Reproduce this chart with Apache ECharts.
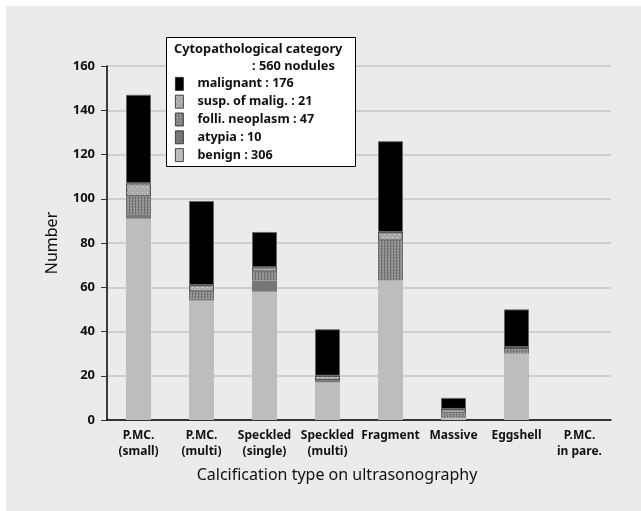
<!DOCTYPE html>
<html>
<head>
<meta charset="utf-8">
<script src="https://cdn.jsdelivr.net/npm/echarts@6/dist/echarts.min.js"></script>
<style>
  body { margin: 0; background: #fff; }
  #chart { position: absolute; left: 6px; top: 6px; width: 635px; height: 505px; background: #ebebeb; }
</style>
</head>
<body>
<div id="chart"></div>
<script>
// categories and stacked counts (bottom to top)
var categories = ['P.MC.\n(small)', 'P.MC.\n(multi)', 'Speckled\n(single)', 'Speckled\n(multi)', 'Fragment', 'Massive', 'Eggshell', 'P.MC.\nin pare.'];
var benign    = [91, 54, 58, 17, 63, 1, 30, 0];
var atypia    = [2, 1, 5, 1, 0, 0, 0, 0];
var folli     = [8, 3, 4, 0, 18, 2, 2, 0];
var susp      = [6, 3, 2, 2, 4, 2, 1, 0];
var malignant = [40, 38, 16, 21, 41, 5, 17, 0];

var yTicks = [0, 20, 40, 60, 80, 100, 120, 140, 160];
var legendNames = ['malignant', 'susp. of malig.', 'folli. neoplasm', 'atypia', 'benign'];
var legendCounts = [176, 21, 47, 10, 306];
var totalNodules = 560;

// little fill patterns for the textured segments
function makePattern(size, base, dots) {
  var c = document.createElement('canvas');
  c.width = size; c.height = size;
  var ctx = c.getContext('2d');
  ctx.fillStyle = base;
  ctx.fillRect(0, 0, size, size);
  dots.forEach(function (d) {
    ctx.fillStyle = d[2];
    ctx.fillRect(d[0], d[1], 1, 1);
  });
  return { image: c, repeat: 'repeat' };
}
var suspFill = makePattern(5, '#a9a9a9', [[1, 1, '#e6e6e6'], [3, 3, '#cfcfcf']]);
var folliFill = makePattern(3, '#8e8e8e', [[0, 0, '#6a6a6a'], [0, 1, '#767676'], [0, 2, '#6a6a6a'], [2, 1, '#a4a4a4']]);

function clean(arr) {
  return arr.map(function (v) { return v === 0 ? '-' : v; });
}

var chart = echarts.init(document.getElementById('chart'));

var font = '"Noto Sans", sans-serif';

var option = {
  animation: false,
  textStyle: { fontFamily: font },
  grid: { left: 101, right: 30, top: 60, bottom: 91 },
  legend: {
    data: legendNames,
    orient: 'vertical',
    icon: 'rect',
    left: 169,
    top: 71,
    z: 10,
    itemWidth: 8,
    itemHeight: 13,
    itemGap: 4,
    padding: 0,
    selectedMode: false,
    itemStyle: { borderColor: '#222', borderWidth: 0.8 },
    textStyle: { fontSize: 12.6, fontWeight: 'bold', color: '#111', padding: [0, 0, 0, 9] },
    formatter: function (name) {
      return name + ' : ' + legendCounts[legendNames.indexOf(name)];
    }
  },
  graphic: [
    {
      type: 'rect', z: 5,
      shape: { x: 160.5, y: 31.5, width: 189, height: 129 },
      style: { fill: '#fff', stroke: '#000', lineWidth: 1 }
    },
    {
      type: 'text', z: 6, left: 168, top: 37,
      style: { text: 'Cytopathological category', font: 'bold 12.8px ' + font, fill: '#111' }
    },
    {
      type: 'text', z: 6, left: 246, top: 54,
      style: { text: ': ' + totalNodules + ' nodules', font: 'bold 12.8px ' + font, fill: '#111' }
    }
  ],
  xAxis: {
    type: 'category',
    data: categories,
    name: 'Calcification type on ultrasonography',
    nameLocation: 'middle',
    nameGap: 47,
    nameTextStyle: { fontSize: 16, color: '#111', padding: [0, 44, 0, 0] },
    axisLine: { lineStyle: { color: '#000', width: 1.5 } },
    axisTick: { length: 5, lineStyle: { color: '#555' } },
    axisLabel: { fontSize: 12, fontWeight: 'bold', color: '#111', lineHeight: 16, margin: 8, interval: 0 }
  },
  yAxis: {
    type: 'value',
    min: 0,
    max: yTicks[yTicks.length - 1],
    interval: yTicks[1] - yTicks[0],
    name: 'Number',
    nameLocation: 'middle',
    nameGap: 47,
    nameTextStyle: { fontSize: 16, color: '#111' },
    axisLine: { show: true, lineStyle: { color: '#000', width: 1.5 } },
    axisTick: { show: true, length: 6, lineStyle: { color: '#333' } },
    axisLabel: { fontSize: 13, fontWeight: 'bold', color: '#111', margin: 12 },
    splitLine: { lineStyle: { color: '#c6c6c6', width: 1.5 } }
  },
  series: [
    { name: 'benign', type: 'bar', stack: 'all', barWidth: 25, data: clean(benign),
      itemStyle: { color: '#bdbdbd' } },
    { name: 'atypia', type: 'bar', stack: 'all', data: clean(atypia),
      itemStyle: { color: '#777' } },
    { name: 'folli. neoplasm', type: 'bar', stack: 'all', data: clean(folli),
      itemStyle: { color: folliFill } },
    { name: 'susp. of malig.', type: 'bar', stack: 'all', data: clean(susp),
      itemStyle: { color: suspFill, borderColor: '#555', borderWidth: 1.2 } },
    { name: 'malignant', type: 'bar', stack: 'all', data: clean(malignant),
      itemStyle: { color: '#000', borderColor: '#666', borderWidth: 1 } }
  ]
};

chart.setOption(option);
</script>
</body>
</html>
